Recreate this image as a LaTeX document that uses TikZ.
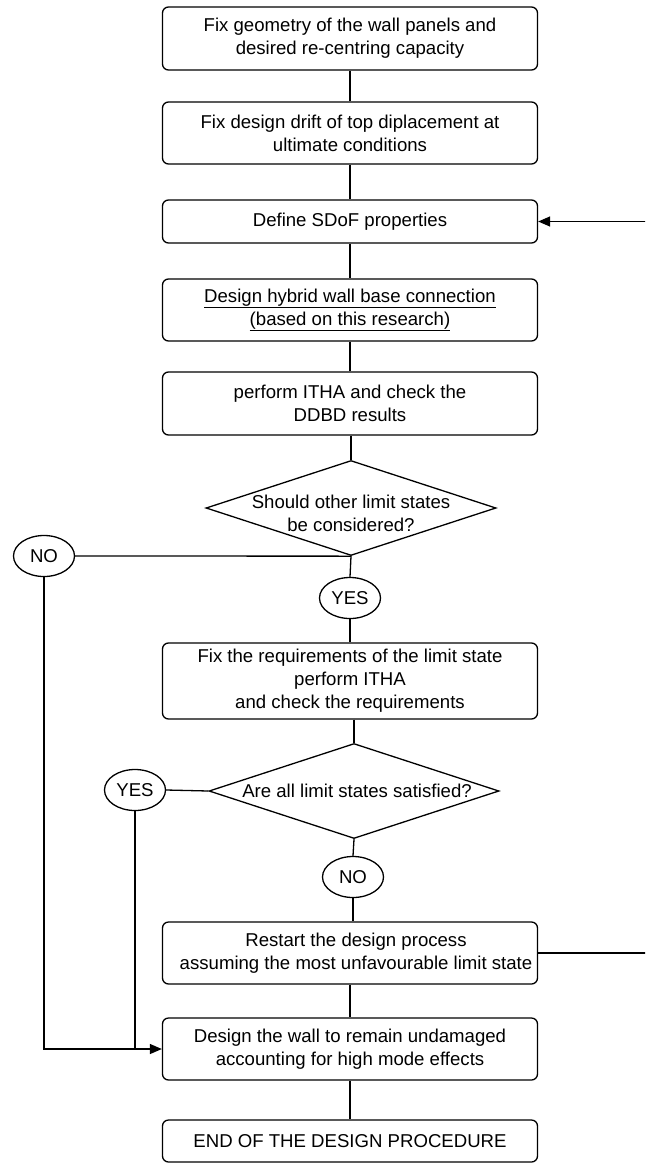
\documentclass[tikz,border=0pt]{standalone}
\usepackage{fontspec}
\setmainfont{Liberation Sans}
\usetikzlibrary{shapes.geometric,arrows.meta}
\begin{document}
\begin{tikzpicture}[x=1pt,y=-1pt,
  line width=1.3pt,
  every node/.style={font=\fontsize{18.6}{23}\selectfont, inner sep=0pt, align=center},
  stepbox/.style={draw, rounded corners=6pt, minimum width=375pt},
  decision/.style={draw, diamond, minimum width=290pt, minimum height=95pt},
  answer/.style={draw, ellipse, minimum width=61pt, minimum height=41pt},
  arr/.style={-{Triangle[length=12pt,width=10pt]}}]
\useasboundingbox (0,0) rectangle (645,1164);
\clip (0,0) rectangle (645,1164);
% boxes
\node[stepbox, minimum height=63pt] (b1) at (350,38.5) {Fix geometry of the wall panels and\\desired re-centring capacity};
\node[stepbox, minimum height=62pt] (b2) at (350,133) {Fix design drift of top diplacement at\\ultimate conditions};
\node[stepbox, minimum height=43pt] (b3) at (350,221.5) {Define SDoF properties};
\node[stepbox, minimum height=62pt] (b4) at (350,310) {\underline{Design hybrid wall base connection}\\\underline{(based on this research)}};
\node[stepbox, minimum height=63pt] (b5) at (350,403.5) {perform ITHA and check the\\DDBD results};
\node[decision] (d1) at (351,508) {};
\node (d1t) at (351,513) {Should other limit states\\be considered?};
\node[answer] (no1) at (44,556) {NO};
\node[answer] (yes1) at (350,598) {YES};
\node[stepbox, minimum height=76pt] (b6) at (350,681) {Fix the requirements of the limit state\\perform ITHA\\and check the requirements};
\node[decision] (d2) at (354,791) {};
\node (d2t) at (357,791) {Are all limit states satisfied?};
\node[answer] (yes2) at (135,790) {YES};
\node[answer] (no2) at (353,877) {NO};
\node[stepbox, minimum height=62pt] (b7) at (350,953) {};
\node (b7t) at (356,953) {Restart the design process\\assuming the most unfavourable limit state};
\node[stepbox, minimum height=62pt] (b8) at (350,1049) {Design the wall to remain undamaged\\accounting for high mode effects};
\node[stepbox, minimum height=42pt] (b9) at (350,1141) {END OF THE DESIGN PROCEDURE};
% connectors
\draw (b1.south) -- (b2.north);
\draw (b2.south) -- (b3.north);
\draw (b3.south) -- (b4.north);
\draw (b4.south) -- (b5.north);
\draw (b5.south -| d1.north) -- (d1.north);
\draw (d1.south) -- (yes1.north);
\draw (yes1.south) -- (b6.north);
\draw (d1.south) -- (no1.east);
\draw[arr] (no1.south) |- (b8.west);
\draw (yes2.south) -- (yes2.south |- b8.west);
\draw (b6.south -| d2.north) -- (d2.north);
\draw (d2.west) -- (yes2.east);
\draw (d2.south) -- (no2.north);
\draw (no2.south) -- (no2.south |- b7.north);
\draw (b7.south) -- (b8.north);
\draw (b8.south) -- (b9.north);
\coordinate (r1) at (652,953);
\draw[arr] (b7.east) -- (r1) |- (b3.east);
\end{tikzpicture}
\end{document}
